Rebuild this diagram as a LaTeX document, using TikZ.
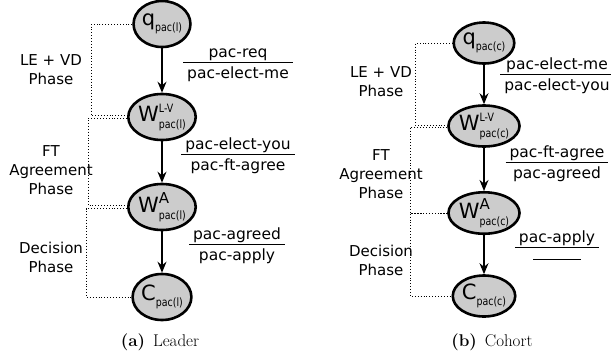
\documentclass[tikz,border=0pt]{standalone}
\usepackage{fontspec}
\newfontfamily\dejavu{DejaVu Sans}
\newfontfamily\dejacond[FakeStretch=0.82]{DejaVu Sans}
\usetikzlibrary{arrows.meta, shapes.geometric}

% state name: main letter, superscript, subscript
\newcommand{\stlab}[3]{{\fontsize{21}{21}\selectfont #1}\makebox[0pt][l]{\raisebox{9.5pt}{#2}}\raisebox{-6.5pt}{\fontsize{11.5}{11.5}\dejacond #3}}
\newcommand{\supsmall}[1]{\fontsize{11.5}{11.5}\dejacond #1}
% message received over message sent
\newcommand{\msgfrac}[2]{\begin{tabular}{@{\hspace{4pt}}c@{\hspace{4pt}}}#1\\[-1pt]\hline\rule{0pt}{15pt}#2\end{tabular}}
\setlength{\arrayrulewidth}{1.3pt}

\begin{document}
\begin{tikzpicture}[x=1pt, y=-1pt, font=\dejavu\fontsize{15}{19}\selectfont,
  state/.style={ellipse, draw=black, line width=2.6pt, fill=black!20, inner sep=0pt,
    minimum width=56pt, minimum height=46pt},
  cstate/.style={state, minimum width=53pt, minimum height=41pt},
  trans/.style={-{Stealth[length=11pt, width=9pt]}, line width=1.1pt},
  phase/.style={dotted, line width=0.9pt},
  phaselab/.style={align=center, inner sep=0pt},
  msg/.style={inner sep=0pt, font=\dejavu\fontsize{15.5}{19}\selectfont},
  capt/.style={font=\rmfamily\fontsize{17}{17}\selectfont}]

\useasboundingbox (0,0) rectangle (611,360);

% Leader
\node[state] (ql) at (162,24) {\stlab{q}{}{pac(l)}};
\node[state] (wlvl) at (162,117) {\stlab{W}{\supsmall{L-V}}{pac(l)}};
\node[state] (wal) at (162,207) {\stlab{W}{\fontsize{15}{15}\selectfont A}{pac(l)}};
\node[state] (cl) at (162,297) {\stlab{C}{}{pac(l)}};

\draw[trans] (ql) -- (wlvl);
\draw[trans] (wlvl) -- (wal);
\draw[trans] (wal) -- (cl);

\node[msg] (ml1) at (238,64) {\msgfrac{pac-req}{pac-elect-me}};
\node[msg] (ml2) at (238,156) {\msgfrac{pac-elect-you}{pac-ft-agree}};
\node[msg] (ml3) at (237,246) {\msgfrac{pac-agreed}{pac-apply}};

\draw[phase] (ql.west) -- ++(-41,0) |- ([yshift=1.5pt]wlvl.west);
\draw[phase] ([yshift=-1.5pt]wlvl.west) -- ++(-39,0) |- ([yshift=1.5pt]wal.west);
\draw[phase] ([yshift=-1.5pt]wal.west) -- ++(-41,0) |- (cl.west);

\node[phaselab] (pl1) at (51,70) {LE + VD\\Phase};
\node[phaselab] (pl2) at (51,170) {FT\\Agreement\\Phase};
\node[phaselab] (pl3) at (51,257) {Decision\\Phase};

\node[capt] (capl) at (160,342) {\textbf{(a)}~\,Leader};

% Cohort
\node[cstate] (qc) at (484,43) {\stlab{q}{}{pac(c)}};
\node[cstate] (wlvc) at (484,126) {\stlab{W}{\supsmall{L-V}}{pac(c)}};
\node[cstate] (wac) at (484,213) {\stlab{W}{\fontsize{15}{15}\selectfont A}{pac(c)}};
\node[cstate] (cc) at (484,296) {\stlab{C}{}{pac(c)}};

\draw[trans] (qc) -- (wlvc);
\draw[trans] (wlvc) -- (wac);
\draw[trans] (wac) -- (cc);

\node[msg] (mc1) at (557,76) {\msgfrac{pac-elect-me}{pac-elect-you}};
\node[msg] (mc2) at (557,164) {\msgfrac{pac-ft-agree}{pac-agreed}};
\node[msg] (mc3) at (557,249) {\msgfrac{pac-apply}{\rule[3pt]{48pt}{1.3pt}}};

\draw[phase] (qc.west) -- ++(-37,0) |- ([yshift=1pt]wlvc.west);
\draw[phase] ([yshift=-1pt]wlvc.west) -- ++(-37,0) |- (wac.west);
\draw[phase] (wac.west) -- ++(-37,0) |- (cc.west);

\node[phaselab] (pc1) at (381,82) {LE + VD\\Phase};
\node[phaselab] (pc2) at (381,174) {FT\\Agreement\\Phase};
\node[phaselab] (pc3) at (381,260) {Decision\\Phase};

\node[capt] (capc) at (492,342) {\textbf{(b)}~\,Cohort};

\end{tikzpicture}
\end{document}
